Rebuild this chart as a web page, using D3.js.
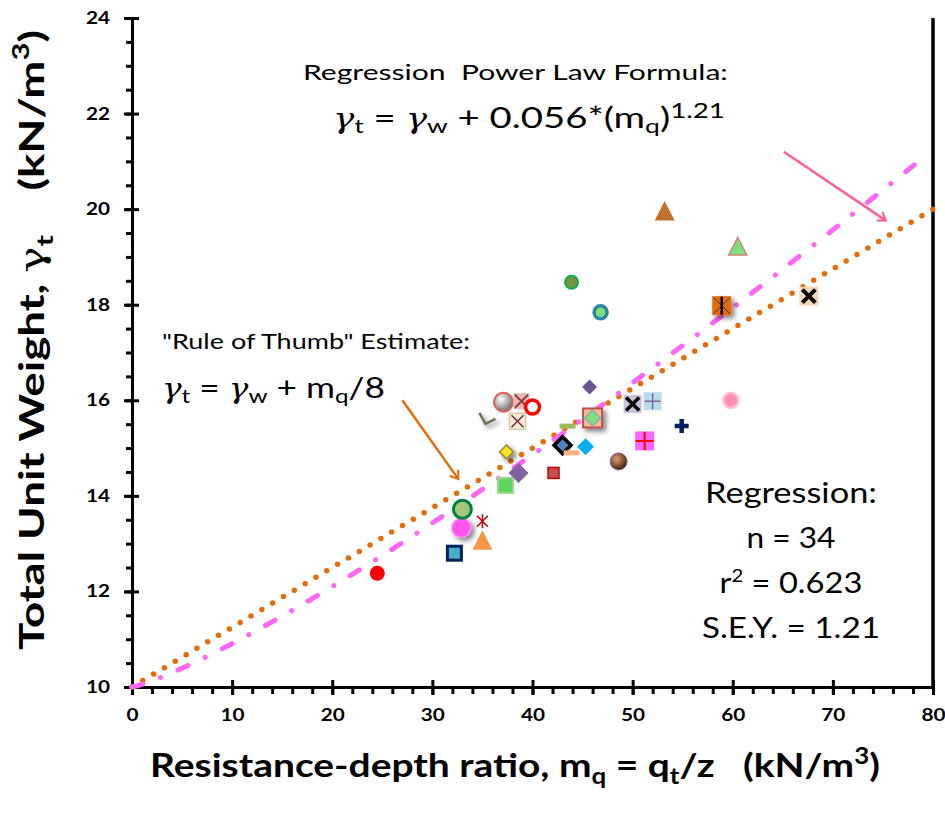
<!DOCTYPE html>
<title>Total unit weight vs resistance-depth ratio</title>
<meta charset="utf-8">
<style>
  body { margin: 0; background: #fff; }
  svg { font-family: Lato, "Open Sans", "Noto Sans", sans-serif; }
  svg text { white-space: pre; }
  .axis path, .axis line { stroke: #000; stroke-width: 3px; }
  .axis text { font-weight: bold; font-size: 17px; fill: #000; font-family: Lato, sans-serif; }
</style>
<body>
<script src="https://d3js.org/d3.v7.min.js"></script>
<script>
// data
var mq = [24.5, 32.2, 35.0, 32.9, 33.0, 35.0, 37.3, 38.6, 37.4, 42.1,
          43.0, 43.9, 45.3, 43.5, 46.0, 45.7, 50.0, 52.0, 54.9, 51.2,
          48.6, 37.1, 38.9, 40.0, 38.5, 35.5, 43.9, 46.8, 53.2, 60.5,
          58.9, 67.6, 59.8];
var gammaT = [12.38, 12.8, 13.05, 13.33, 13.72, 13.47, 14.22, 14.48, 14.92, 14.48,
              15.06, 14.9, 15.03, 15.46, 15.63, 16.28, 15.92, 15.98, 15.46, 15.15,
              14.72, 15.96, 15.98, 15.86, 15.56, 15.63, 18.47, 17.84, 19.94, 19.2,
              17.98, 18.18, 16.0];
// marker style for each point (same order)
var markers = ["dotRed", "sqNavy", "triOrange", "blobPink", "circGreen", "starRed", "sqGreen", "diaPurple", "diaYellow", "sqRed",
               "diaBlack", "dashPeach", "diaCyan", "dashOlive", "sqDia", "diaDark", "sqX", "sqPlus", "plusNavy", "sqPlusRed",
               "ballBrown", "ballGray", "sqXPink", "ringRed", "sqXTan", "chevron", "circOlive", "circTeal", "triBrown", "triGreen",
               "sqStar", "sqXPeach", "circPink"];

var gammaW = 10;
var ruleDiv = 8;
var powA = 0.056, powB = 1.21;
var xTicks = [0, 10, 20, 30, 40, 50, 60, 70, 80];
var yTicks = [10, 12, 14, 16, 18, 20, 22, 24];

var W = 945, H = 816;
var stretch = 1.22; // the original picture is wider than tall
var x = d3.scaleLinear().domain([0, 80]).range([132, 933]);
var y = d3.scaleLinear().domain([10, 24]).range([687, 18]);

var svg = d3.select("body").append("svg").attr("width", W).attr("height", H);

// squeeze/stretch a text horizontally to a given width around an anchor x
function fit(sel, ax, target) {
  var w = sel.node().getBBox().width;
  var s = target / w;
  sel.attr("transform", "translate(" + ax + ",0) scale(" + s + ",1) translate(" + (-ax) + ",0)");
}

var defs = svg.append("defs");
function ball(id, c0, c1) {
  var g = defs.append("radialGradient").attr("id", id).attr("cx", "38%").attr("cy", "35%").attr("r", "65%");
  g.append("stop").attr("offset", "0%").attr("stop-color", c0);
  g.append("stop").attr("offset", "100%").attr("stop-color", c1);
}
ball("gBrown", "#e0a070", "#4a2208");
ball("gGray", "#ffffff", "#707070");
var blur = defs.append("filter").attr("id", "soft").attr("x", "-50%").attr("y", "-50%").attr("width", "200%").attr("height", "200%");
blur.append("feGaussianBlur").attr("in", "SourceAlpha").attr("stdDeviation", 2.5).attr("result", "b");
blur.append("feOffset").attr("in", "b").attr("dx", 3).attr("dy", 3).attr("result", "o");
blur.append("feComponentTransfer").attr("in", "o").attr("result", "s")
  .append("feFuncA").attr("type", "linear").attr("slope", 0.5);
var mg = blur.append("feMerge");
mg.append("feMergeNode").attr("in", "s");
mg.append("feMergeNode").attr("in", "SourceGraphic");
["orangeHead", "pinkHead"].forEach(function(id, i) {
  defs.append("marker").attr("id", id).attr("viewBox", "-10 -10 20 20")
    .attr("refX", 0).attr("refY", 0).attr("markerWidth", 16).attr("markerHeight", 16)
    .attr("markerUnits", "userSpaceOnUse").attr("orient", "auto")
    .append("path").attr("d", "M-9,-6 L0,0 L-9,6").attr("fill", "none")
    .attr("stroke", i ? "#ff5f96" : "#e46c0a").attr("stroke-width", 2.5).attr("stroke-linecap", "round");
});

// axes: minor ticks outward, major ticks crossing
var xMinor = d3.range(0, 81, 2), yMinor = d3.range(10, 24.01, 0.5);
svg.append("g").attr("class", "axis").attr("transform", "translate(0,687)")
  .call(d3.axisBottom(x).tickValues(xMinor).tickSize(7).tickFormat(""));
svg.append("g").attr("class", "axis").attr("transform", "translate(0,687)")
  .call(d3.axisTop(x).tickValues(xTicks).tickSize(7).tickFormat(""));
var xa = svg.append("g").attr("class", "axis").attr("transform", "translate(0,687)")
  .call(d3.axisBottom(x).tickValues(xTicks).tickSize(8).tickPadding(22).tickFormat(d3.format("d")));
xa.selectAll("text").attr("dy", "0.25em").attr("transform", "scale(" + stretch + ",1)");
svg.append("g").attr("class", "axis").attr("transform", "translate(132,0)")
  .call(d3.axisLeft(y).tickValues(yMinor).tickSize(6).tickFormat(""));
svg.append("g").attr("class", "axis").attr("transform", "translate(132,0)")
  .call(d3.axisRight(y).tickValues(yTicks).tickSize(7).tickFormat(""));
var ya = svg.append("g").attr("class", "axis").attr("transform", "translate(132,0)")
  .call(d3.axisLeft(y).tickValues(yTicks).tickSize(8).tickFormat(d3.format("d")));
ya.selectAll("text").attr("x", 0).attr("transform", "translate(-22,0) scale(" + stretch + ",1)");
svg.selectAll(".axis .domain").attr("stroke-width", 3.5);
svg.append("line").attr("x1", x(80)).attr("x2", x(80)).attr("y1", y(24)).attr("y2", y(10))
  .attr("stroke", "#000").attr("stroke-width", 3.5);

// fitted curves
var xs = d3.range(0, 80.01, 0.5);
svg.append("path")
  .attr("d", d3.line().x(function(d) { return x(d); }).y(function(d) { return y(gammaW + d / ruleDiv); })(xs))
  .attr("fill", "none").attr("stroke", "#e46c0a").attr("stroke-width", 5.5)
  .attr("stroke-linecap", "round").attr("stroke-dasharray", "0 12.6");
svg.append("path")
  .attr("d", d3.line().x(function(d) { return x(d); }).y(function(d) { return y(gammaW + powA * Math.pow(d, powB)); })(xs.filter(function(d) { return d <= 79.5; })))
  .attr("fill", "none").attr("stroke", "#ff66f5").attr("stroke-width", 5)
  .attr("stroke-linecap", "round").attr("stroke-dasharray", "11 19 0.1 19");

// markers
function sq(g, s, fill, stroke, sw) {
  g.append("rect").attr("x", -s / 2).attr("y", -s / 2).attr("width", s).attr("height", s)
    .attr("fill", fill).attr("stroke", stroke || "none").attr("stroke-width", sw || 0);
}
function dia(g, s, fill, stroke, sw) {
  g.append("path").attr("d", "M0," + (-s / 2) + "L" + (s / 2) + ",0L0," + (s / 2) + "L" + (-s / 2) + ",0Z")
    .attr("fill", fill).attr("stroke", stroke || "none").attr("stroke-width", sw || 0);
}
function tri(g, s, fill, stroke, sw) {
  g.append("path").attr("d", "M0," + (-s * 0.55) + "L" + (s / 2) + "," + (s * 0.42) + "L" + (-s / 2) + "," + (s * 0.42) + "Z")
    .attr("fill", fill).attr("stroke", stroke || "none").attr("stroke-width", sw || 0);
}
function circ(g, r, fill, stroke, sw) {
  g.append("circle").attr("r", r).attr("fill", fill).attr("stroke", stroke || "none").attr("stroke-width", sw || 0);
}
function cross(g, s, color, sw) {
  g.append("path").attr("d", "M" + (-s) + "," + (-s) + "L" + s + "," + s + "M" + s + "," + (-s) + "L" + (-s) + "," + s)
    .attr("stroke", color).attr("stroke-width", sw).attr("fill", "none");
}
function plus(g, s, color, sw) {
  g.append("path").attr("d", "M" + (-s) + ",0L" + s + ",0M0," + (-s) + "L0," + s)
    .attr("stroke", color).attr("stroke-width", sw).attr("fill", "none");
}
var draw = {
  dotRed: function(g) { circ(g, 7.5, "#ff0000"); },
  sqNavy: function(g) { sq(g, 14, "#4bacc6", "#002060", 3); },
  triOrange: function(g) { tri(g, 20, "#f79646"); },
  blobPink: function(g) { g.attr("filter", "url(#soft)"); circ(g, 9.5, "#ff55ee", "#ff88f0", 1.5); },
  circGreen: function(g) { circ(g, 9, "#a9c47f", "#00803c", 3); },
  starRed: function(g) { cross(g, 5.5, "#c00000", 1.5);
    g.append("path").attr("d", "M0,-7L0,7").attr("stroke", "#c00000").attr("stroke-width", 1.5); },
  sqGreen: function(g) { sq(g, 15, "#5fd35f", "#9bd889", 2); },
  diaPurple: function(g) { dia(g, 20, "#8064a2"); },
  diaYellow: function(g) { g.attr("filter", "url(#soft)"); dia(g, 14, "#ffe11a", "#9c8b3a", 1.5); },
  sqRed: function(g) { sq(g, 11, "#c0504d", "#c00000", 1.5); },
  diaBlack: function(g) { dia(g, 17, "#4f81bd", "#000", 3.5); },
  dashPeach: function(g) { g.append("line").attr("x1", -8).attr("x2", 8).attr("stroke", "#fab07f").attr("stroke-width", 5); },
  diaCyan: function(g) { dia(g, 17, "#00b0f0"); },
  dashOlive: function(g) { g.append("line").attr("x1", -8).attr("x2", 8).attr("stroke", "#9bbb59").attr("stroke-width", 5); },
  sqDia: function(g) { g.attr("filter", "url(#soft)"); sq(g, 19, "#fabf8f", "#c0504d", 2); dia(g, 16, "#7fe07f", "#8ea9c0", 1.5); },
  diaDark: function(g) { dia(g, 15, "#6b5394"); },
  sqX: function(g) { sq(g, 18, "#ccc0da"); cross(g, 6.5, "#000", 3.5); },
  sqPlus: function(g) { sq(g, 18, "#b7dde8"); plus(g, 8, "#8064a2", 1.5); },
  plusNavy: function(g) { plus(g, 7, "#002060", 4.5); },
  sqPlusRed: function(g) { sq(g, 19, "#ff66ff"); plus(g, 9, "#ff0000", 2); },
  ballBrown: function(g) { circ(g, 8.5, "url(#gBrown)", "#8064a2", 1); },
  ballGray: function(g) { circ(g, 9.5, "url(#gGray)", "#e06060", 2); },
  sqXPink: function(g) { sq(g, 16, "#e6b9b8"); cross(g, 6.5, "#953735", 1.8); },
  ringRed: function(g) { circ(g, 7, "#fff", "#ff0000", 3.5); },
  sqXTan: function(g) { sq(g, 16, "#fde9d9", "#d9c9a5", 1.5); cross(g, 6, "#632523", 1.3); },
  chevron: function(g) { g.attr("filter", "url(#soft)");
    g.append("path").attr("d", "M-8,-5L-2,6L8,1").attr("fill", "none").attr("stroke", "#6f6f55").attr("stroke-width", 2.5); },
  circOlive: function(g) { circ(g, 6.5, "#77933c", "#00b050", 2); },
  circTeal: function(g) { circ(g, 6.5, "#7fe07f", "#31859c", 3.5); },
  triBrown: function(g) { tri(g, 20, "#c0702f"); },
  triGreen: function(g) { tri(g, 18, "#7fe07f", "#d08080", 1.5); },
  sqStar: function(g) { g.attr("filter", "url(#soft)"); sq(g, 19, "#e46c0a"); cross(g, 8, "#333", 1);
    g.append("path").attr("d", "M0,-9L0,9").attr("stroke", "#000").attr("stroke-width", 2.5); },
  sqXPeach: function(g) { sq(g, 19, "#fcd5b5"); cross(g, 6.5, "#000", 4); },
  circPink: function(g) { circ(g, 7.5, "#ff8fab", "#ffc0d0", 2.5); }
};
var pts = svg.append("g").selectAll("g").data(mq).enter().append("g")
  .attr("transform", function(d, i) { return "translate(" + x(d) + "," + y(gammaT[i]) + ")"; });
pts.each(function(d, i) { draw[markers[i]](d3.select(this)); });

// annotation arrows
svg.append("line").attr("x1", x(27.0)).attr("y1", y(16.0)).attr("x2", x(32.6)).attr("y2", y(14.35))
  .attr("stroke", "#e46c0a").attr("stroke-width", 2.5).attr("marker-end", "url(#orangeHead)");
svg.append("line").attr("x1", x(65.1)).attr("y1", y(21.2)).attr("x2", x(75.3)).attr("y2", y(19.76))
  .attr("stroke", "#ff5f96").attr("stroke-width", 2.5).attr("marker-end", "url(#pinkHead)");

// annotation text
var gam = "'DejaVu Serif', serif";
function formula(t, tail) {
  t.append("tspan").attr("font-family", gam).attr("font-style", "italic").attr("font-size", 27).text("γ");
  t.append("tspan").attr("font-size", 20).attr("dy", 5).text("t");
  t.append("tspan").attr("dy", -5).text(" = ");
  t.append("tspan").attr("font-family", gam).attr("font-style", "italic").attr("font-size", 27).text("γ");
  t.append("tspan").attr("font-size", 20).attr("dy", 5).text("w");
  t.append("tspan").attr("dy", -5).text(tail);
  t.append("tspan").attr("font-size", 20).attr("dy", 5).text("q");
}
var t1 = svg.append("text").attr("x", 303).attr("y", 80).attr("font-size", 22).text("Regression  Power Law Formula:");
fit(t1, 303, 425);
var f1 = svg.append("text").attr("x", 333).attr("y", 128).attr("font-size", 29);
formula(f1, " + 0.056*(m");
f1.append("tspan").attr("dy", -5).text(")");
f1.append("tspan").attr("font-size", 21).attr("dy", -10).text("1.21");
fit(f1, 333, 392);

var t2 = svg.append("text").attr("x", 162).attr("y", 349).attr("font-size", 22).text("\"Rule of Thumb\" Estimate:");
fit(t2, 162, 308);
var f2 = svg.append("text").attr("x", 162).attr("y", 398).attr("font-size", 29);
formula(f2, " + m");
f2.append("tspan").attr("dy", -5).text("/8");
fit(f2, 162, 223);

var stats = svg.append("g").attr("text-anchor", "middle").attr("font-size", 29);
fit(stats.append("text").attr("x", 791).attr("y", 503).text("Regression:"), 791, 172);
fit(stats.append("text").attr("x", 791).attr("y", 548).text("n = 34"), 791, 89);
var r2 = stats.append("text").attr("x", 791).attr("y", 593);
r2.append("tspan").text("r");
r2.append("tspan").attr("font-size", 18).attr("dy", -11).text("2");
r2.append("tspan").attr("dy", 11).text(" = 0.623");
fit(r2, 791, 143);
fit(stats.append("text").attr("x", 791).attr("y", 638).text("S.E.Y. = 1.21"), 791, 178);

// axis titles
var xt = svg.append("text").attr("x", 515).attr("y", 777).attr("text-anchor", "middle")
  .attr("font-weight", "bold").attr("font-size", 33);
xt.append("tspan").text("Resistance-depth ratio, m");
xt.append("tspan").attr("font-size", 22).attr("dy", 7).text("q");
xt.append("tspan").attr("dy", -7).text(" = q");
xt.append("tspan").attr("font-size", 22).attr("dy", 7).text("t");
xt.append("tspan").attr("dy", -7).text("/z   (kN/m");
xt.append("tspan").attr("font-size", 22).attr("dy", -13).text("3");
xt.append("tspan").attr("dy", 13).text(")");
fit(xt, 515, 730);

var ytg = svg.append("g").attr("transform", "translate(44,340) rotate(-90)");
var yt = ytg.append("text").attr("text-anchor", "middle")
  .attr("font-weight", "bold").attr("font-size", 28);
yt.append("tspan").text("Total Unit Weight, ");
yt.append("tspan").attr("font-family", gam).attr("font-weight", "normal").attr("font-size", 27).text("γ");
yt.append("tspan").attr("font-size", 19).attr("dy", 7).text("t");
yt.append("tspan").attr("dy", -7).text("    (kN/m");
yt.append("tspan").attr("font-size", 19).attr("dy", -12).text("3");
yt.append("tspan").attr("dy", 12).text(")");
var yl = yt.node().getBBox().width;
yt.attr("transform", "scale(" + (620 / yl) + ",1.25)");
</script>
</body>
